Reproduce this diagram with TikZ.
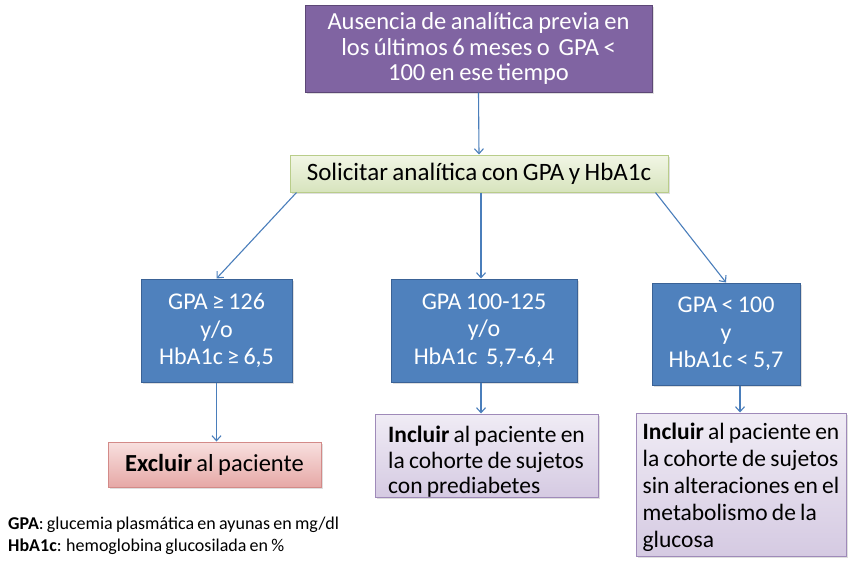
\documentclass[tikz,border=0pt]{standalone}
\usepackage{fontspec}
\setmainfont{Carlito}[WordSpace=0.8]
\usetikzlibrary{arrows.meta,shadows,calc}
\definecolor{purpfill}{HTML}{8064A2}
\definecolor{purpline}{HTML}{5C4776}
\definecolor{bluefill}{HTML}{4F81BD}
\definecolor{blueline}{HTML}{3A6296}
\definecolor{arrowblue}{HTML}{4A7EBB}
\definecolor{greentop}{HTML}{F2F6E6}
\definecolor{greenbot}{HTML}{D7E4BD}
\definecolor{greenline}{HTML}{B9CD8A}
\definecolor{redtop}{HTML}{F8E0DF}
\definecolor{redbot}{HTML}{E6A8A6}
\definecolor{redline}{HTML}{D38A88}
\definecolor{lavtop}{HTML}{F0ECF5}
\definecolor{lavbot}{HTML}{D5CAE2}
\definecolor{lavline}{HTML}{9F8AB9}
\tikzset{
  box/.style={rectangle, inner sep=0pt, line width=1pt, drop shadow={shadow xshift=2pt, shadow yshift=-2pt, opacity=0.25}},
  purplebox/.style={box, fill=purpfill, draw=purpline, text=white, align=center,
    font=\fontsize{24.5}{25.5}\selectfont},
  greenbox/.style={box, top color=greentop, bottom color=greenbot, draw=greenline,
    font=\fontsize{25}{25}\selectfont},
  bluebox/.style={box, fill=bluefill, draw=blueline, text=white, align=center,
    font=\fontsize{24}{27.5}\selectfont},
  redbox/.style={box, top color=redtop, bottom color=redbot, draw=redline,
    font=\fontsize{24.5}{25}\selectfont},
  lavbox/.style={box, top color=lavtop, bottom color=lavbot, draw=lavline},
  lavtext/.style={inner sep=0pt, align=left},
  conn/.style={draw=arrowblue, line width=1.1pt, -{Straight Barb[length=5pt,width=9pt]}},
  legend/.style={anchor=west, inner sep=0pt, font=\fontsize{18}{18}\selectfont}
}
\begin{document}
\begin{tikzpicture}[x=1pt,y=-1pt]
\useasboundingbox[fill=white] (0,0) rectangle (849,565);
\node[purplebox, minimum width=347pt, minimum height=87pt] (top) at (478.5,48.5)
  {Ausencia de analítica previa en\\los últimos 6 meses o\ \ GPA <\\100 en ese tiempo};
\node[greenbox, minimum width=378pt, minimum height=37pt] (sol) at (479,173.5)
  {Solicitar analítica con GPA y HbA1c};
\node[bluebox, minimum width=151pt, minimum height=103pt] (b1) at (216.5,330.5)
  {GPA ≥ 126\\y/o\\HbA1c ≥ 6,5};
\node[bluebox, minimum width=186pt, minimum height=103pt] (b2) at (484,330.5)
  {GPA 100-125\\y/o\\HbA1c\ \ 5,7-6,4};
\node[bluebox, minimum width=148pt, minimum height=102pt] (b3) at (726,334)
  {GPA < 100\\y\\HbA1c < 5,7};
\node[redbox, minimum width=213pt, minimum height=45pt] (ex) at (214.5,464.5)
  {\textbf{Excluir} al paciente};
\node[lavbox, minimum width=223pt, minimum height=83pt] (in1) at (486.5,455.5) {};
\node[lavtext, font=\fontsize{23.5}{25.5}\selectfont] (in1t) at ($(in1.center)+(0,6.5)$)
  {\textbf{Incluir} al paciente en\\la cohorte de sujetos\\con prediabetes};
\node[lavbox, minimum width=210pt, minimum height=143pt] (in2) at (741,484.5) {};
\node[lavtext, font=\fontsize{23.5}{27}\selectfont] (in2t) at ($(in2.center)+(0,2.5)$)
  {\textbf{Incluir} al paciente en\\la cohorte de sujetos\\sin alteraciones en el\\metabolismo de la\\glucosa};
\node[legend] (l1) at (8,525) {\textbf{GPA}: glucemia plasmática en ayunas en mg/dl};
\node[legend] (l2) at (8,547) {\textbf{HbA1c}: hemoglobina glucosilada en \%};
\draw[conn] (top.south) -- (sol.north);
\draw[conn] ($(sol.south west)+(7,0)$) -- (b1.north);
\draw[conn] ($(sol.south)+(2,0)$) -- ($(b2.north)+(-3,0)$);
\draw[conn] ($(sol.south east)+(-13,0)$) -- (b3.north);
\draw[conn] (b1.south) -- ($(ex.north)+(2,0)$);
\draw[conn] ($(b2.south)+(-3,0)$) -- ($(in1.north)+(-5.5,0)$);
\draw[conn] ($(b3.south)+(14,0)$) -- ($(in2.north)+(-1,0)$);
\end{tikzpicture}
\end{document}
